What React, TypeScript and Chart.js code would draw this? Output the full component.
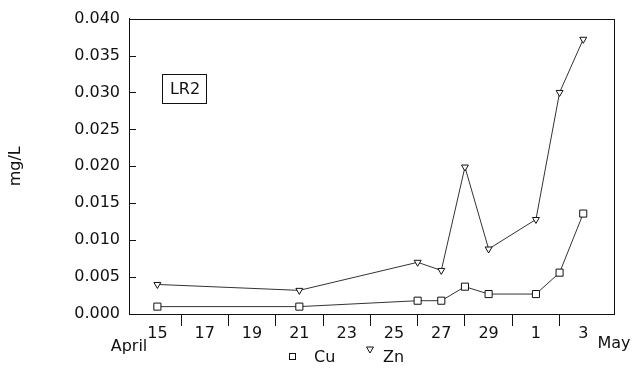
import { useEffect, useRef } from 'react';
import { Chart, registerables } from 'chart.js';
Chart.register(...registerables);

// Sampling days (April 15 = 15 ... May 1 = 31, May 3 = 33)
const days = [15, 21, 26, 27, 28, 29, 31, 32, 33];
const cuValues = [0.001, 0.001, 0.0018, 0.0018, 0.0037, 0.0027, 0.0027, 0.0056, 0.0136];
const znValues = [0.004, 0.0032, 0.007, 0.0059, 0.0199, 0.0088, 0.0128, 0.03, 0.0372];
const seriesNames = ['Cu', 'Zn'];
const monthLabels = ['April', 'May'];
const yTitle = 'mg/L';
const boxLabel = 'LR2';
const aprilDays = 30;
const firstDay = 15;
const lastDay = 33;

const FONT = 'DejaVu Sans';
const INK = '#111';

const dayLabel = (d: number) => (d > aprilDays ? String(d - aprilDays) : String(d));

const decor = {
  id: 'decor',
  afterDraw(chart: any) {
    const { ctx, chartArea: a, scales } = chart;
    const ys = scales.y;
    const xs = scales.x;
    ctx.save();
    ctx.strokeStyle = INK;
    ctx.lineWidth = 1;
    // frame
    ctx.strokeRect(Math.round(a.left) + 0.5, Math.round(a.top) + 0.5, Math.round(a.right - a.left), Math.round(a.bottom - a.top));
    // inward y ticks
    ys.ticks.forEach((t: any) => {
      const py = Math.round(ys.getPixelForValue(t.value)) + 0.5;
      ctx.beginPath();
      ctx.moveTo(a.left, py);
      ctx.lineTo(a.left + 7, py);
      ctx.stroke();
    });
    // LR2 box
    const bx1 = xs.getPixelForValue(15.2);
    const bx2 = xs.getPixelForValue(17.05);
    const by1 = ys.getPixelForValue(0.0325);
    const by2 = ys.getPixelForValue(0.0286);
    ctx.strokeRect(Math.round(bx1) + 0.5, Math.round(by1) + 0.5, Math.round(bx2 - bx1), Math.round(by2 - by1));
    ctx.fillStyle = INK;
    ctx.font = `16px "${FONT}"`;
    ctx.textAlign = 'center';
    ctx.textBaseline = 'middle';
    ctx.fillText(boxLabel, (bx1 + bx2) / 2 + 1, (by1 + by2) / 2 + 1);
    // month labels
    ctx.fillText(monthLabels[0], a.left, a.bottom + 33);
    ctx.fillText(monthLabels[1], a.right, a.bottom + 30);
    // legend
    const ly = a.bottom + 43;
    ctx.lineWidth = 1;
    ctx.strokeRect(289.5, ly - 3.5, 6, 6);
    ctx.textAlign = 'left';
    ctx.fillText(seriesNames[0], 314, ly + 1);
    const tx = 370, ty = ly - 8;
    ctx.beginPath();
    ctx.moveTo(tx - 3.5, ty - 2);
    ctx.lineTo(tx + 3.5, ty - 2);
    ctx.lineTo(tx, ty + 4);
    ctx.closePath();
    ctx.stroke();
    ctx.fillText(seriesNames[1], 383, ly + 1);
    ctx.restore();
  },
};

export default function App() {
  const ref = useRef<HTMLCanvasElement>(null);
  useEffect(() => {
    if (!ref.current) return;
    Chart.defaults.font.family = FONT;
    Chart.defaults.font.size = 16;
    Chart.defaults.color = INK;
    const chart = new Chart(ref.current, {
      type: 'line',
      data: {
        datasets: [
          {
            label: seriesNames[0],
            data: days.map((d, i) => ({ x: d, y: cuValues[i] })),
            borderColor: '#333',
            borderWidth: 1,
            pointStyle: 'rect',
            pointRadius: 5,
            pointBorderWidth: 1,
            pointBorderColor: INK,
            pointBackgroundColor: '#fff',
            tension: 0,
          },
          {
            label: seriesNames[1],
            data: days.map((d, i) => ({ x: d, y: znValues[i] })),
            borderColor: '#333',
            borderWidth: 1,
            pointStyle: 'triangle',
            pointRotation: 180,
            pointRadius: 4,
            pointBorderWidth: 1,
            pointBorderColor: INK,
            pointBackgroundColor: '#fff',
            tension: 0,
          },
        ],
      },
      options: {
        responsive: false,
        animation: false,
        layout: { padding: { top: 15, right: 20, bottom: 26, left: 0 } },
        plugins: { legend: { display: false }, tooltip: { enabled: false } },
        scales: {
          x: {
            type: 'linear',
            min: 13.8,
            max: 34.3,
            afterFit: (s: any) => { s.height = 28; },
            ticks: {
              stepSize: 1,
              includeBounds: false,
              autoSkip: false,
              maxRotation: 0,
              padding: -2,
              color: INK,
              font: { size: 16 },
              callback: (v: any) => (Number(v) % 2 === 1 ? dayLabel(Number(v)) : ''),
            },
            grid: {
              drawOnChartArea: false,
              drawTicks: true,
              tickLength: 12,
              tickWidth: 1,
              color: (c: any) =>
                c.tick && c.tick.value % 2 === 0 && c.tick.value > firstDay && c.tick.value < lastDay
                  ? INK
                  : 'rgba(0,0,0,0)',
            },
            border: { display: true, color: INK, width: 1 },
          },
          y: {
            type: 'linear',
            min: 0,
            max: 0.04,
            afterFit: (s: any) => { s.width = 129; },
            ticks: {
              stepSize: 0.005,
              padding: 9,
              color: INK,
              font: { size: 16 },
              callback: (v: any) => Number(v).toFixed(3),
            },
            grid: { drawOnChartArea: false, drawTicks: false },
            border: { display: true, color: INK, width: 1 },
            title: {
              display: true,
              text: yTitle,
              color: INK,
              font: { size: 16 },
              padding: { top: 6, bottom: 0 },
            },
          },
        },
      },
      plugins: [decor],
    });
    return () => chart.destroy();
  }, []);
  return (
    <div style={{ position: 'fixed', left: 0, top: 0, width: 634, height: 368, background: '#fff' }}>
      <canvas ref={ref} width={634} height={368} />
    </div>
  );
}
